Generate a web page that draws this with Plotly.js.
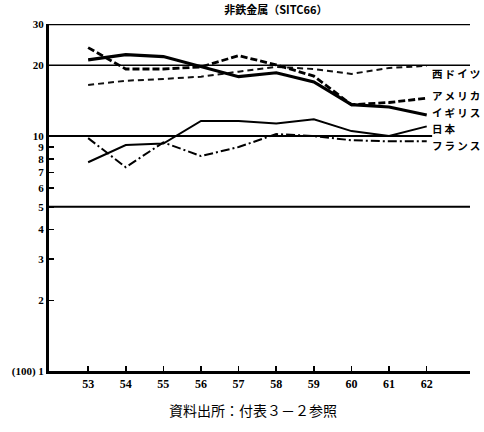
<!DOCTYPE html>
<html><head><meta charset="utf-8">
<script src="https://cdn.plot.ly/plotly-3.0.1.min.js"></script>
<style>html,body{margin:0;padding:0;background:#fff}#chart{width:484px;height:432px}</style>
</head><body><div id="chart"></div>
<script>
const years = [53,54,55,56,57,58,59,60,61,62];
const westGermany = [16.5,17.2,17.5,17.9,18.8,19.7,19.3,18.4,19.5,19.9];
const usa = [23.8,19.3,19.3,19.7,22.0,20.1,18.0,13.6,13.9,14.5];
const uk = [21.1,22.2,21.8,19.7,17.9,18.6,17.0,13.6,13.3,12.3];
const japan = [7.74,9.16,9.3,11.6,11.6,11.3,11.8,10.5,10.0,11.0];
const france = [9.8,7.37,9.4,8.22,8.98,10.2,10.0,9.6,9.5,9.5];
const seriesNames = ['西ドイツ','アメリカ','イギリス','日本','フランス'];
const labelY = [18.4,14.9,12.6,10.75,9.1];
const yTickVals = [1,2,3,4,5,6,7,8,9,10,20,30];
const yTickText = ['(100) 1','2','3','4','5','6','7','8','9','10','20','30'];
const refLines = [5,10,20,30];

const traces = [
  {x:years,y:westGermany,name:seriesNames[0],mode:'lines',line:{color:'#111',width:2,dash:'6px,4px'}},
  {x:years,y:usa,name:seriesNames[1],mode:'lines',line:{color:'#000',width:2.8,dash:'7px,3px'}},
  {x:years,y:uk,name:seriesNames[2],mode:'lines',line:{color:'#000',width:3.2}},
  {x:years,y:japan,name:seriesNames[3],mode:'lines',line:{color:'#000',width:2}},
  {x:years,y:france,name:seriesNames[4],mode:'lines',line:{color:'#000',width:2,dash:'9px,3px,2px,3px'}}
];

const shapes = refLines.map(v => ({
  type:'line', xref:'paper', yref:'y', x0:0, x1:(v===10?0.91:1), y0:v, y1:v,
  line:{color:'#000', width:(v===30?2.5:(v===20?1.5:2))}
}));

const annotations = seriesNames.map((n,i)=>({
  text:n.split('').join('\u2009'), xref:'paper', yref:'y', x:0.905, y:Math.log10(labelY[i]), xanchor:'left', yanchor:'middle',
  showarrow:false, font:{family:'Noto Sans CJK JP', size:10.5, color:'#000', weight:'bold'}
}));
annotations.push({
  text:'資料出所：付表３－２参照', xref:'paper', yref:'paper', x:0.485, y:-0.112,
  xanchor:'center', yanchor:'middle', showarrow:false,
  font:{family:'Noto Sans CJK JP', size:14, color:'#000'}
});

const layout = {
  width:484, height:432,
  margin:{l:49, r:14, t:24, b:61},
  paper_bgcolor:'#fff', plot_bgcolor:'#fff',
  showlegend:false,
  title:{text:'<b>非鉄金属（SITC66）</b>', x:0.57, xanchor:'center', y:0.977, yanchor:'middle', yref:'container',
    font:{family:'Noto Sans CJK JP', size:11, color:'#000'}},
  xaxis:{range:[51.96,63.15], tickvals:years, ticktext:years.map(String), ticks:'inside', ticklen:5, tickwidth:1.5, tickcolor:'#000',
    showgrid:false, zeroline:false, showline:true, linecolor:'#000', linewidth:3,
    tickfont:{family:'Liberation Serif', size:12, color:'#000', weight:'bold'}},
  yaxis:{type:'log', range:[0, Math.log10(30)], tickvals:yTickVals, ticktext:yTickText, ticks:'inside', ticklen:5, tickwidth:1.5, tickcolor:'#000',
    showgrid:false, zeroline:false, showline:true, linecolor:'#000', linewidth:3,
    tickfont:{family:'Liberation Serif', size:11, color:'#000', weight:'bold'}},
  shapes:shapes,
  annotations:annotations
};
Plotly.newPlot('chart', traces, layout, {staticPlot:true, displayModeBar:false});
</script></body></html>
